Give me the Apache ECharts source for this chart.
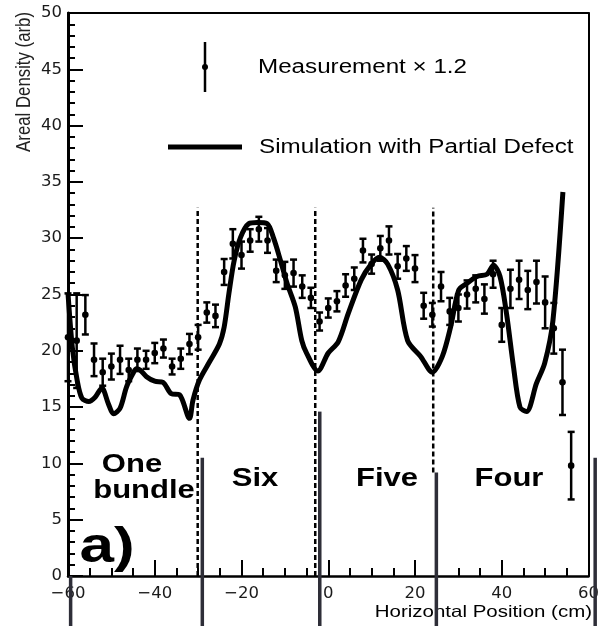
<!DOCTYPE html>
<html>
<head>
<meta charset="utf-8">
<title>Areal Density</title>
<script src="https://cdn.jsdelivr.net/npm/echarts@6/dist/echarts.min.js"></script>
<style>
html,body{margin:0;padding:0;background:#fff;}
#main{width:602px;height:626px;}
</style>
</head>
<body>
<div id="main"></div>
<script>
// measured points (x in cm), value and error bar half width
var measX = [-60,-58,-56,-54,-52,-50,-48,-46,-44,-42,-40,-38,-36,-34,-32,-30,-28,-26,-24,-22,-20,-18,-16,-14,-12,-10,-8,-6,-4,-2,
	0,2,4,6,8,10,12,14,16,18,20,22,24,26,28,30,32,34,36,38,40,42,44,46,48,50,52,54,56];
var measY = [21.2,20.9,23.2,19.2,18.1,18.6,19.2,18.3,19.2,19.2,19.8,20.2,18.6,19.3,20.6,21.2,23.4,23.1,27.0,29.5,28.5,29.8,30.8,29.8,27.1,26.7,26.9,25.7,24.7,22.6,
	23.8,24.4,25.8,26.4,28.9,27.7,29.1,29.8,27.5,28.2,27.3,24.0,23.2,25.7,23.5,23.8,25.0,25.5,24.6,26.8,22.3,25.5,26.3,25.4,26.1,24.3,22.0,17.2,9.8];
var measErr = [3.9,4.2,1.75,1.45,1.2,1.15,1.25,1.0,1.0,0.8,0.9,0.8,0.7,0.9,0.9,1.1,0.9,1.0,1.15,1.3,1.2,1.0,1.1,1.1,1.0,1.2,1.2,1.0,0.9,0.8,
	0.85,0.9,1.0,1.0,1.05,0.85,1.1,1.25,1.1,1.1,1.2,1.15,1.05,1.3,1.2,1.2,1.25,1.2,1.3,1.2,1.5,1.7,1.7,1.7,1.9,2.3,2.25,2.9,3.0];

// simulation curve
var simX = [-60,-59.0,-57.9,-56.8,-55.2,-53.7,-52.2,-50.7,-49.5,-48.0,-46.5,-45.0,-44.2,-43.4,-41.9,-40.0,-38.1,-36.2,-34.3,-32.0,-31.2,-29.7,-27.4,-25.1,-24.0,-22.9,-21.7,-20.2,-18.3,-16.4,-14.1,-12.6,-11.0,-9.5,-7.6,-6.1,-5.0,-2.4,
	0,2.3,4.6,7.6,9.9,11.8,13.7,16.0,18.3,21.3,24.0,26.3,28.2,30.1,32.0,34.3,36.6,38.1,39.6,41.1,42.7,44.2,45.7,48.0,49.9,51.8,54.1];
var simY = [25.1,20.3,17.4,15.8,15.5,15.9,16.7,15.3,14.4,14.9,16.8,18.0,18.4,18.3,17.7,17.3,17.2,16.2,16.1,14.0,15.6,17.4,19.0,20.6,22.1,25.1,28.0,30.1,31.3,31.4,31.3,30.0,28.0,26.0,23.9,20.9,19.8,18.2,
	19.8,20.8,23.3,26.3,27.7,28.3,27.7,25.4,20.9,19.5,18.1,19.5,22.1,25.4,26.0,26.6,26.8,27.6,26.6,23.3,18.6,15.0,14.6,17.1,18.9,22.7,34.1];

// bundle boundaries (dashed) and the dark bars under the plot
var dashX = [-30.1, -3.0, 24.2];
var dashLow = [0, 0, 9.2];
var dashTop = [32.7, 32.7, 32.7];
var barX = [-59.4, -29.3, -2.45, 24.2, 60.5];
var barTop = [0, 10.5, 14.6, 9.2, 10.5];
var barBottom = -4.44;

var xTicks = [-60, -40, -20, 0, 20, 40, 60];
var yTicks = [0, 5, 10, 15, 20, 25, 30, 35, 40, 45, 50];

var fontMain = '"Liberation Sans", Arial, sans-serif';
var stretch = 1.24;

function zip(a, b, c) {
	var out = [];
	for (var i = 0; i < a.length; i++) {
		out.push(c ? [a[i], b[i], c[i]] : [a[i], b[i]]);
	}
	return out;
}

function renderErr(params, api) {
	var x = api.value(0), y = api.value(1), e = api.value(2);
	var p = api.coord([x, y]);
	var hi = api.coord([x, y + e]);
	var lo = api.coord([x, y - e]);
	var st = {stroke: '#000', lineWidth: 2.5};
	return {type: 'group', children: [
		{type: 'line', shape: {x1: p[0], y1: hi[1], x2: p[0], y2: lo[1]}, style: st},
		{type: 'line', shape: {x1: p[0] - 3.5, y1: hi[1], x2: p[0] + 3.5, y2: hi[1]}, style: st},
		{type: 'line', shape: {x1: p[0] - 3.5, y1: lo[1], x2: p[0] + 3.5, y2: lo[1]}, style: st},
		{type: 'circle', shape: {cx: p[0], cy: p[1], r: 3.3}, style: {fill: '#000'}}
	]};
}

function renderDash(params, api) {
	var a = api.coord([api.value(0), api.value(1)]);
	var b = api.coord([api.value(0), api.value(2)]);
	return {type: 'line', shape: {x1: a[0], y1: a[1], x2: b[0], y2: b[1]},
		style: {stroke: '#000', lineWidth: 2.5, lineDash: [5, 3]}};
}

function renderBar(params, api) {
	var a = api.coord([api.value(0), api.value(1)]);
	var b = api.coord([api.value(0), barBottom]);
	return {type: 'line', shape: {x1: a[0], y1: a[1], x2: b[0], y2: b[1]},
		style: {stroke: '#2e2e38', lineWidth: 3.5}};
}

function minus(v) {
	return String(v).replace('-', '\u2212');
}

function txt(x, y, s, size, bold, align) {
	return {
		type: 'text', x: x, y: y, scaleX: stretch, silent: true,
		style: {text: s, fill: '#000', font: (bold ? 'bold ' : '') + size + 'px ' + fontMain,
			textAlign: align || 'center', textVerticalAlign: 'middle'}
	};
}

var myChart = echarts.init(document.getElementById('main'));

var tickLabel = {color: '#1a1a1a', fontFamily: '"DejaVu Sans", sans-serif', fontSize: 16.5};

var option = {
	animation: false,
	grid: [
		{left: 68, right: 9.5, top: 13, bottom: 50},
		{left: 68, right: 0, top: 13, bottom: 0}
	],
	xAxis: [
		{
			gridIndex: 0, type: 'value', min: xTicks[0], max: xTicks[xTicks.length - 1], interval: 20,
			axisLine: {onZero: false, lineStyle: {color: '#000', width: 2.5}},
			axisTick: {inside: true, length: 16, lineStyle: {color: '#000', width: 2}},
			minorTick: {show: true, splitNumber: 4, length: 8, lineStyle: {color: '#000', width: 2}},
			splitLine: {show: false},
			axisLabel: {margin: 9, color: tickLabel.color, fontFamily: tickLabel.fontFamily, fontSize: tickLabel.fontSize, formatter: minus}
		},
		{
			gridIndex: 0, type: 'value', position: 'top', min: -60, max: 60,
			axisLine: {onZero: false, lineStyle: {color: '#000', width: 2}},
			axisTick: {show: false}, axisLabel: {show: false}, splitLine: {show: false}
		},
		{gridIndex: 1, type: 'value', min: -60, max: 62.06, show: false}
	],
	yAxis: [
		{
			gridIndex: 0, type: 'value', min: yTicks[0], max: yTicks[yTicks.length - 1], interval: 5,
			axisLine: {onZero: false, lineStyle: {color: '#000', width: 3}},
			axisTick: {inside: true, length: 15, lineStyle: {color: '#000', width: 2}},
			minorTick: {show: true, splitNumber: 5, length: 7, lineStyle: {color: '#000', width: 2}},
			splitLine: {show: false},
			axisLabel: {margin: 6, color: tickLabel.color, fontFamily: tickLabel.fontFamily, fontSize: tickLabel.fontSize}
		},
		{
			gridIndex: 0, type: 'value', position: 'right', min: 0, max: 50,
			axisLine: {show: true, onZero: false, lineStyle: {color: '#000', width: 2}},
			axisTick: {show: false}, axisLabel: {show: false}, splitLine: {show: false}
		},
		{gridIndex: 1, type: 'value', min: barBottom, max: 50, show: false}
	],
	series: [
		{
			name: 'Bundle edges', type: 'custom', xAxisIndex: 0, yAxisIndex: 0,
			renderItem: renderDash, silent: true,
			data: zip(dashX, dashLow, dashTop)
		},
		{
			name: 'Simulation with Partial Defect', type: 'line', xAxisIndex: 0, yAxisIndex: 0,
			data: zip(simX, simY), showSymbol: false, smooth: 0.3,
			lineStyle: {color: '#000', width: 5}, z: 3
		},
		{
			name: 'Measurement × 1.2', type: 'custom', xAxisIndex: 0, yAxisIndex: 0,
			renderItem: renderErr, z: 4,
			data: zip(measX, measY, measErr)
		},
		{
			name: 'Bars', type: 'custom', xAxisIndex: 2, yAxisIndex: 2,
			renderItem: renderBar, silent: true, z: 5,
			data: zip(barX, barTop)
		}
	],
	graphic: [
		// legend
		{type: 'line', shape: {x1: 205, y1: 42, x2: 205, y2: 92}, style: {stroke: '#000', lineWidth: 2.5}},
		{type: 'circle', shape: {cx: 205, cy: 67, r: 3}, style: {fill: '#000'}},
		txt(258, 68, 'Measurement \u00d7 1.2', 19.5, false, 'left'),
		{type: 'line', shape: {x1: 168, y1: 147, x2: 242, y2: 147}, style: {stroke: '#000', lineWidth: 5}},
		txt(259, 148, 'Simulation with Partial Defect', 19.5, false, 'left'),
		// bundle labels
		txt(132, 465, 'One', 25, true),
		txt(144, 491, 'bundle', 25, true),
		txt(255, 479, 'Six', 25, true),
		txt(387, 479, 'Five', 25, true),
		txt(509, 479, 'Four', 25, true),
		txt(107, 548, 'a)', 50, true),
		// axis titles
		txt(592, 612, 'Horizontal Position (cm)', 16.5, false, 'right'),
		{
			type: 'text', x: 24, y: 12, rotation: Math.PI / 2, scaleY: stretch, silent: true,
			style: {text: 'Areal Density (arb)', fill: '#222', font: '16.8px ' + fontMain,
				textAlign: 'right', textVerticalAlign: 'middle'}
		}
	]
};

myChart.setOption(option);
</script>
</body>
</html>
